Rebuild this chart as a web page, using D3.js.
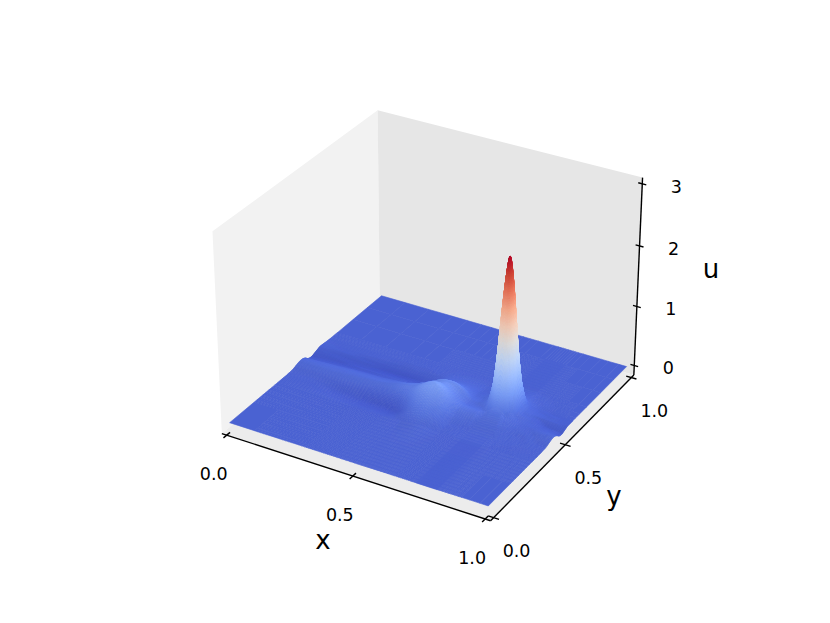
<!DOCTYPE html>
<html>
<head>
<meta charset="utf-8">
<script src="https://cdn.jsdelivr.net/npm/d3@7"></script>
<style>
html,body{margin:0;padding:0;background:#fff}
svg{display:block}
text{font-family:"DejaVu Sans",sans-serif;fill:#000}
</style>
</head>
<body>
<svg id="chart" width="830" height="623"></svg>
<script>
// Values
const xTicks = [0, 0.5, 1];
const yTicks = [0, 0.5, 1];
const zTicks = [0, 1, 2, 3];
const xLabels = ["0.0", "0.5", "1.0"];
const yLabels = ["0.0", "0.5", "1.0"];
const zLabels = ["0", "1", "2", "3"];
const axisTitles = ["x", "y", "u"];
const xLim = [-0.02, 1.02];
const yLim = [-0.02, 1.02];
const zLim = [-0.163, 3.098];

const gridX = [0,.1,.2,.3,.36,.42,.46,.5,.53,.56,.59,.62,.65,.71,.73,.74,.75,.76,.77,.78,.79,.8,.81,.83,.86,.9,.93,.97,1];
const gridY = [0,.15,.3,.36,.4,.43,.455,.475,.495,.513,.523,.533,.543,.553,.563,.573,.583,.593,.613,.643,.693,.8,.9,1];
const uRows = [
[0,0,0,0,0,0,0,0,0,0,0,0,0,0,0,0,0,0,0,0,0,0,0,0,0,0,0,0,0],
[0,0,0,0,0,0,0,0,0,0,0,0,0,0,0,0,0,0,0,0,0,0,0,0,0,0,0,0,0],
[0,0,0,-.01,-.01,-.01,0,.01,.025,.035,.03,.015,.005,.005,.005,.005,.005,.005,.005,.005,.005,.005,.005,.005,0,0,0,0,0],
[0,-.005,-.03,-.05,-.06,-.06,-.02,.08,.13,.16,.13,.08,.03,.012,.012,.012,.012,.012,.012,.012,.012,.012,.012,.012,.01,.006,.005,.005,0],
[.01,.01,0,-.02,-.02,-.01,.06,.2,.27,.31,.26,.15,.08,.04,.03,.03,.03,.03,.03,.03,.03,.03,.03,.025,.015,.01,.015,.01,.01],
[.04,.05,.05,.05,.05,.09,.17,.305,.38,.402,.33,.184,.12,.08,.06,.06,.06,.06,.06,.06,.06,.06,.05,.04,.025,.022,.02,.03,.04],
[.05,.06,.065,.075,.09,.15,.19,.274,.344,.366,.304,.175,.12,.09,.08,.08,.09,.09,.09,.09,.09,.08,.07,.052,.032,.02,.03,.04,.05],
[.03,.045,.055,.06,.08,.13,.17,.22,.28,.3,.255,.155,.08,.07,.09,.11,.16,.19,.21,.19,.16,.11,.09,.06,.035,.02,.02,.02,.02],
[-.02,0,.02,.03,.05,.08,.14,.2,.26,.282,.247,.16,.072,.072,.17,.29,.43,.56,.61,.56,.43,.29,.17,.07,.04,.01,0,-.01,-.03],
[-.04,-.03,-.02,-.01,.01,.04,.11,.19,.25,.277,.267,.195,.075,.1,.33,.6,.9,1.17,1.27,1.17,.9,.6,.33,.1,.045,.01,-.02,-.03,-.04],
[-.04,-.04,-.03,-.02,0,.02,.09,.17,.226,.25,.24,.18,.07,.11,.44,.79,1.21,1.57,1.72,1.57,1.21,.79,.44,.11,.045,.01,-.02,-.02,-.03],
[-.03,-.04,-.03,-.025,-.02,0,.07,.15,.2,.217,.195,.133,.06,.12,.54,.98,1.49,1.9,2.08,1.9,1.49,.98,.54,.12,.05,.01,-.01,-.01,-.02],
[-.02,-.03,-.04,-.04,-.03,-.02,.05,.122,.162,.177,.159,.108,.05,.125,.6,1.08,1.63,2.12,2.36,2.12,1.63,1.08,.6,.125,.05,.02,.01,0,-.01],
[-.01,-.025,-.04,-.05,-.05,-.03,.03,.105,.138,.151,.136,.093,.045,.13,.62,1.1,1.68,2.2,2.48,2.2,1.68,1.1,.62,.13,.045,.02,.01,0,0],
[0,-.02,-.035,-.055,-.055,-.04,.01,.087,.114,.125,.112,.077,.038,.125,.57,1.02,1.55,2.03,2.27,2.03,1.55,1.02,.57,.125,.04,.015,.01,0,0],
[.01,-.01,-.025,-.05,-.055,-.04,0,.069,.091,.1,.089,.061,.03,.11,.46,.79,1.2,1.57,1.76,1.57,1.2,.79,.46,.11,.035,.01,.01,0,0],
[.01,0,-.02,-.035,-.04,-.03,-.01,.054,.071,.078,.07,.048,.025,.08,.29,.52,.79,1.03,1.14,1.03,.79,.52,.29,.08,.025,.01,0,0,0],
[.01,0,-.01,-.025,-.025,-.02,-.01,.04,.054,.059,.053,.037,.02,.06,.165,.285,.465,.585,.625,.585,.465,.285,.165,.06,.02,.005,0,0,0],
[.005,0,0,-.01,-.01,-.01,0,.021,.028,.031,.028,.02,.012,.035,.06,.08,.105,.12,.125,.12,.105,.08,.06,.03,.015,.005,0,0,0],
[0,0,0,0,0,0,0,.008,.01,.011,.01,.007,.003,.012,.025,.028,.03,.03,.03,.03,.03,.028,.025,.015,.01,0,0,0,0],
[0,0,0,0,0,0,0,0,0,0,0,0,0,0,.003,.003,.003,.003,.003,.003,.003,.003,.003,0,0,0,0,0,0],
[0,0,0,0,0,0,0,0,0,0,0,0,0,0,0,0,0,0,0,0,0,0,0,0,0,0,0,0,0],
[0,0,0,0,0,0,0,0,0,0,0,0,0,0,0,0,0,0,0,0,0,0,0,0,0,0,0,0,0],
[0,0,0,0,0,0,0,0,0,0,0,0,0,0,0,0,0,0,0,0,0,0,0,0,0,0,0,0,0]
];
const cmapStops = [0,.1,.2,.3,.4,.5,.6,.7,.8,.9,1];
const cmapColors = ["#3b4cc0","#5a78e4","#7b9ff9","#9ebeff","#c0d4f5","#dddcdc","#f2cbb7","#f5a98b","#e8765c","#cd4435","#b40426"];

// 3D view (elevation 30, azimuth -60, distance 10, box 4:4:3)
const svg = d3.select("#chart");
const elev = Math.PI / 6, azim = -Math.PI / 3, dist = 10;
const boxSize = [1.1428, 1.1428, 0.8571];
const N = [Math.cos(elev)*Math.cos(azim), Math.cos(elev)*Math.sin(azim), Math.sin(elev)];
const U = [0.866025, 0.5, 0];
const V = [N[1]*U[2]-N[2]*U[1], N[2]*U[0]-N[0]*U[2], N[0]*U[1]-N[1]*U[0]];
const xBox = d3.scaleLinear().domain(xLim).range([-boxSize[0]/2, boxSize[0]/2]);
const yBox = d3.scaleLinear().domain(yLim).range([-boxSize[1]/2, boxSize[1]/2]);
const zBox = d3.scaleLinear().domain(zLim).range([-boxSize[2]/2, boxSize[2]/2]);
const screenX = d3.scaleLinear().domain([-0.1, 0.1]).range([162, 701]);
const screenY = d3.scaleLinear().domain([-0.1, 0.1]).range([575, 37]);
const dot = (a, b) => a[0]*b[0] + a[1]*b[1] + a[2]*b[2];
function project(x, y, z) {
  const q = [xBox(x), yBox(y), zBox(z)];
  const w = dist - dot(N, q);
  return [screenX(dot(U, q)/w), screenY(dot(V, q)/w), w];
}
const line2 = d3.line();
const polyPath = pts => line2(pts.map(p => [p[0], p[1]])) + "Z";

// panes
const [x0, x1] = xLim, [y0, y1] = yLim, [z0, z1] = zLim;
const panes = [
  {c: [[x0,y0,z0],[x0,y1,z0],[x0,y1,z1],[x0,y0,z1]], fill: "#f2f2f2"},
  {c: [[x0,y1,z0],[x1,y1,z0],[x1,y1,z1],[x0,y1,z1]], fill: "#e6e6e6"},
  {c: [[x0,y0,z0],[x1,y0,z0],[x1,y1,z0],[x0,y1,z0]], fill: "#ececec"}
];
svg.append("g").selectAll("path").data(panes).join("path")
  .attr("d", d => polyPath(d.c.map(p => project(...p))))
  .attr("fill", d => d.fill);

// surface
const nx = gridX.length, ny = gridY.length;
const cmap = d3.scaleLinear().domain(cmapStops).range(cmapColors).interpolate(d3.interpolateRgb);
const colorScale = d3.scaleLinear().domain([-0.13, 2.5]).range([0, 1]).clamp(true);
const lerpGrid = (g, s) => { const i = Math.min(Math.floor(s), g.length - 2); return g[i] + (g[i+1]-g[i])*(s-i); };
const cr = (a, b, c, d, t) => 0.5*((2*b) + (c-a)*t + (2*a-5*b+4*c-d)*t*t + (3*b-a-3*c+d)*t*t*t);
const clampI = (v, n) => Math.max(0, Math.min(n-1, v));
function surf(si, sj) {
  const i = Math.min(Math.floor(si), nx-2), j = Math.min(Math.floor(sj), ny-2);
  const t = si-i, s = sj-j;
  const col = [];
  for (let b = -1; b <= 2; b++) {
    const row = uRows[clampI(j+b, ny)];
    col.push(cr(row[clampI(i-1,nx)], row[i], row[clampI(i+1,nx)], row[clampI(i+2,nx)], t));
  }
  return Math.max(-0.13, cr(col[0], col[1], col[2], col[3], s));
}
const L = [0.667, 0.667, 0.333];
const quads = [];
for (let j = 0; j < ny-1; j++) {
  for (let i = 0; i < nx-1; i++) {
    let maxV = 0;
    for (let b = -1; b <= 2; b++) for (let a = -1; a <= 2; a++) {
      maxV = Math.max(maxV, Math.abs(uRows[clampI(j+b,ny)][clampI(i+a,nx)]));
    }
    let n = 1;
    if (maxV > 0) {
      const corners = [[i,j],[i+1,j],[i+1,j+1],[i,j+1]].map(([a,b]) => project(gridX[a], gridY[b], uRows[b][a]));
      const ext = Math.max(d3.max(corners, c => c[0]) - d3.min(corners, c => c[0]),
                           d3.max(corners, c => c[1]) - d3.min(corners, c => c[1]));
      n = Math.max(2, Math.min(8, Math.ceil(ext/3)));
    }
    for (let b = 0; b < n; b++) for (let a = 0; a < n; a++) {
      const pts = [[a,b],[a+1,b],[a+1,b+1],[a,b+1]].map(([p,q]) => {
        const si = i + p/n, sj = j + q/n;
        return [lerpGrid(gridX, si), lerpGrid(gridY, sj), surf(si, sj)];
      });
      const prj = pts.map(p => project(...p));
      const zx = ((pts[1][2]-pts[0][2]) + (pts[2][2]-pts[3][2]))/2 / (pts[1][0]-pts[0][0]);
      const zy = ((pts[3][2]-pts[0][2]) + (pts[2][2]-pts[1][2]))/2 / (pts[3][1]-pts[0][1]);
      const slope = Math.hypot(zx, zy);
      const len = Math.hypot(zx, zy, 1);
      const nl = dot([-zx/len, -zy/len, 1/len], L);
      const zMean = d3.mean(pts, p => p[2]);
      const c = d3.rgb(cmap(colorScale(zMean)));
      const f = Math.max(0.97, 1 + 0.06*(nl - 0.333)*Math.min(1, slope/0.4));
      const fill = d3.rgb(c.r*f, c.g*f, c.b*f).formatHex();
      quads.push({d: polyPath(prj), w: d3.mean(prj, p => p[2]), fill});
    }
  }
}
quads.sort((p, q) => q.w - p.w);
svg.append("g").attr("stroke-width", 0.6).attr("stroke-linejoin", "round")
  .selectAll("path").data(quads).join("path")
  .attr("d", d => d.d).attr("fill", d => d.fill).attr("stroke", d => d.fill);

// axes
const axisG = svg.append("g").attr("stroke", "#000").attr("fill", "none").attr("stroke-width", 1.4);
const segs = [
  [[x0,y0,z0],[x1,y0,z0]],
  [[x1,y0,z0],[x1,y1,z0]],
  [[x1,y1,z0],[x1,y1,z1]]
];
const tickX = 0.02, tickZ = 0.015;
xTicks.forEach(t => segs.push([[t,y0-tickX,z0],[t,y0+tickX,z0]]));
yTicks.forEach(t => segs.push([[x1-tickX,t,z0],[x1+tickX,t,z0]]));
zTicks.forEach(t => segs.push([[x1-tickZ,y1,t],[x1+tickZ,y1,t]]));
axisG.selectAll("path").data(segs).join("path")
  .attr("d", d => line2(d.map(p => project(...p).slice(0,2))));

// tick labels
const labG = svg.append("g").attr("font-size", 17.5).attr("text-anchor", "middle");
function tickText(data, labels, pos, dx, dy) {
  labG.append("g").selectAll("text").data(data).join("text")
    .attr("x", t => project(...pos(t))[0] + dx)
    .attr("y", t => project(...pos(t))[1] + dy)
    .attr("dy", "0.36em")
    .text((t, i) => labels[i]);
}
tickText(xTicks, xLabels, t => [t,y0,z0], -13, 38.5);
tickText(yTicks, yLabels, t => [x1,t,z0], 23, 33);
tickText(zTicks, zLabels, t => [x1,y1,t], 34, 2.5);

// axis titles
const titleG = svg.append("g").attr("font-size", 26).attr("text-anchor", "middle");
const titleAt = [[323,541],[614,497],[711,270]];
titleG.selectAll("text").data(axisTitles).join("text")
  .attr("x", (d,i) => titleAt[i][0]).attr("y", (d,i) => titleAt[i][1])
  .attr("dy", "0.3em").text(d => d);
</script>
</body>
</html>
